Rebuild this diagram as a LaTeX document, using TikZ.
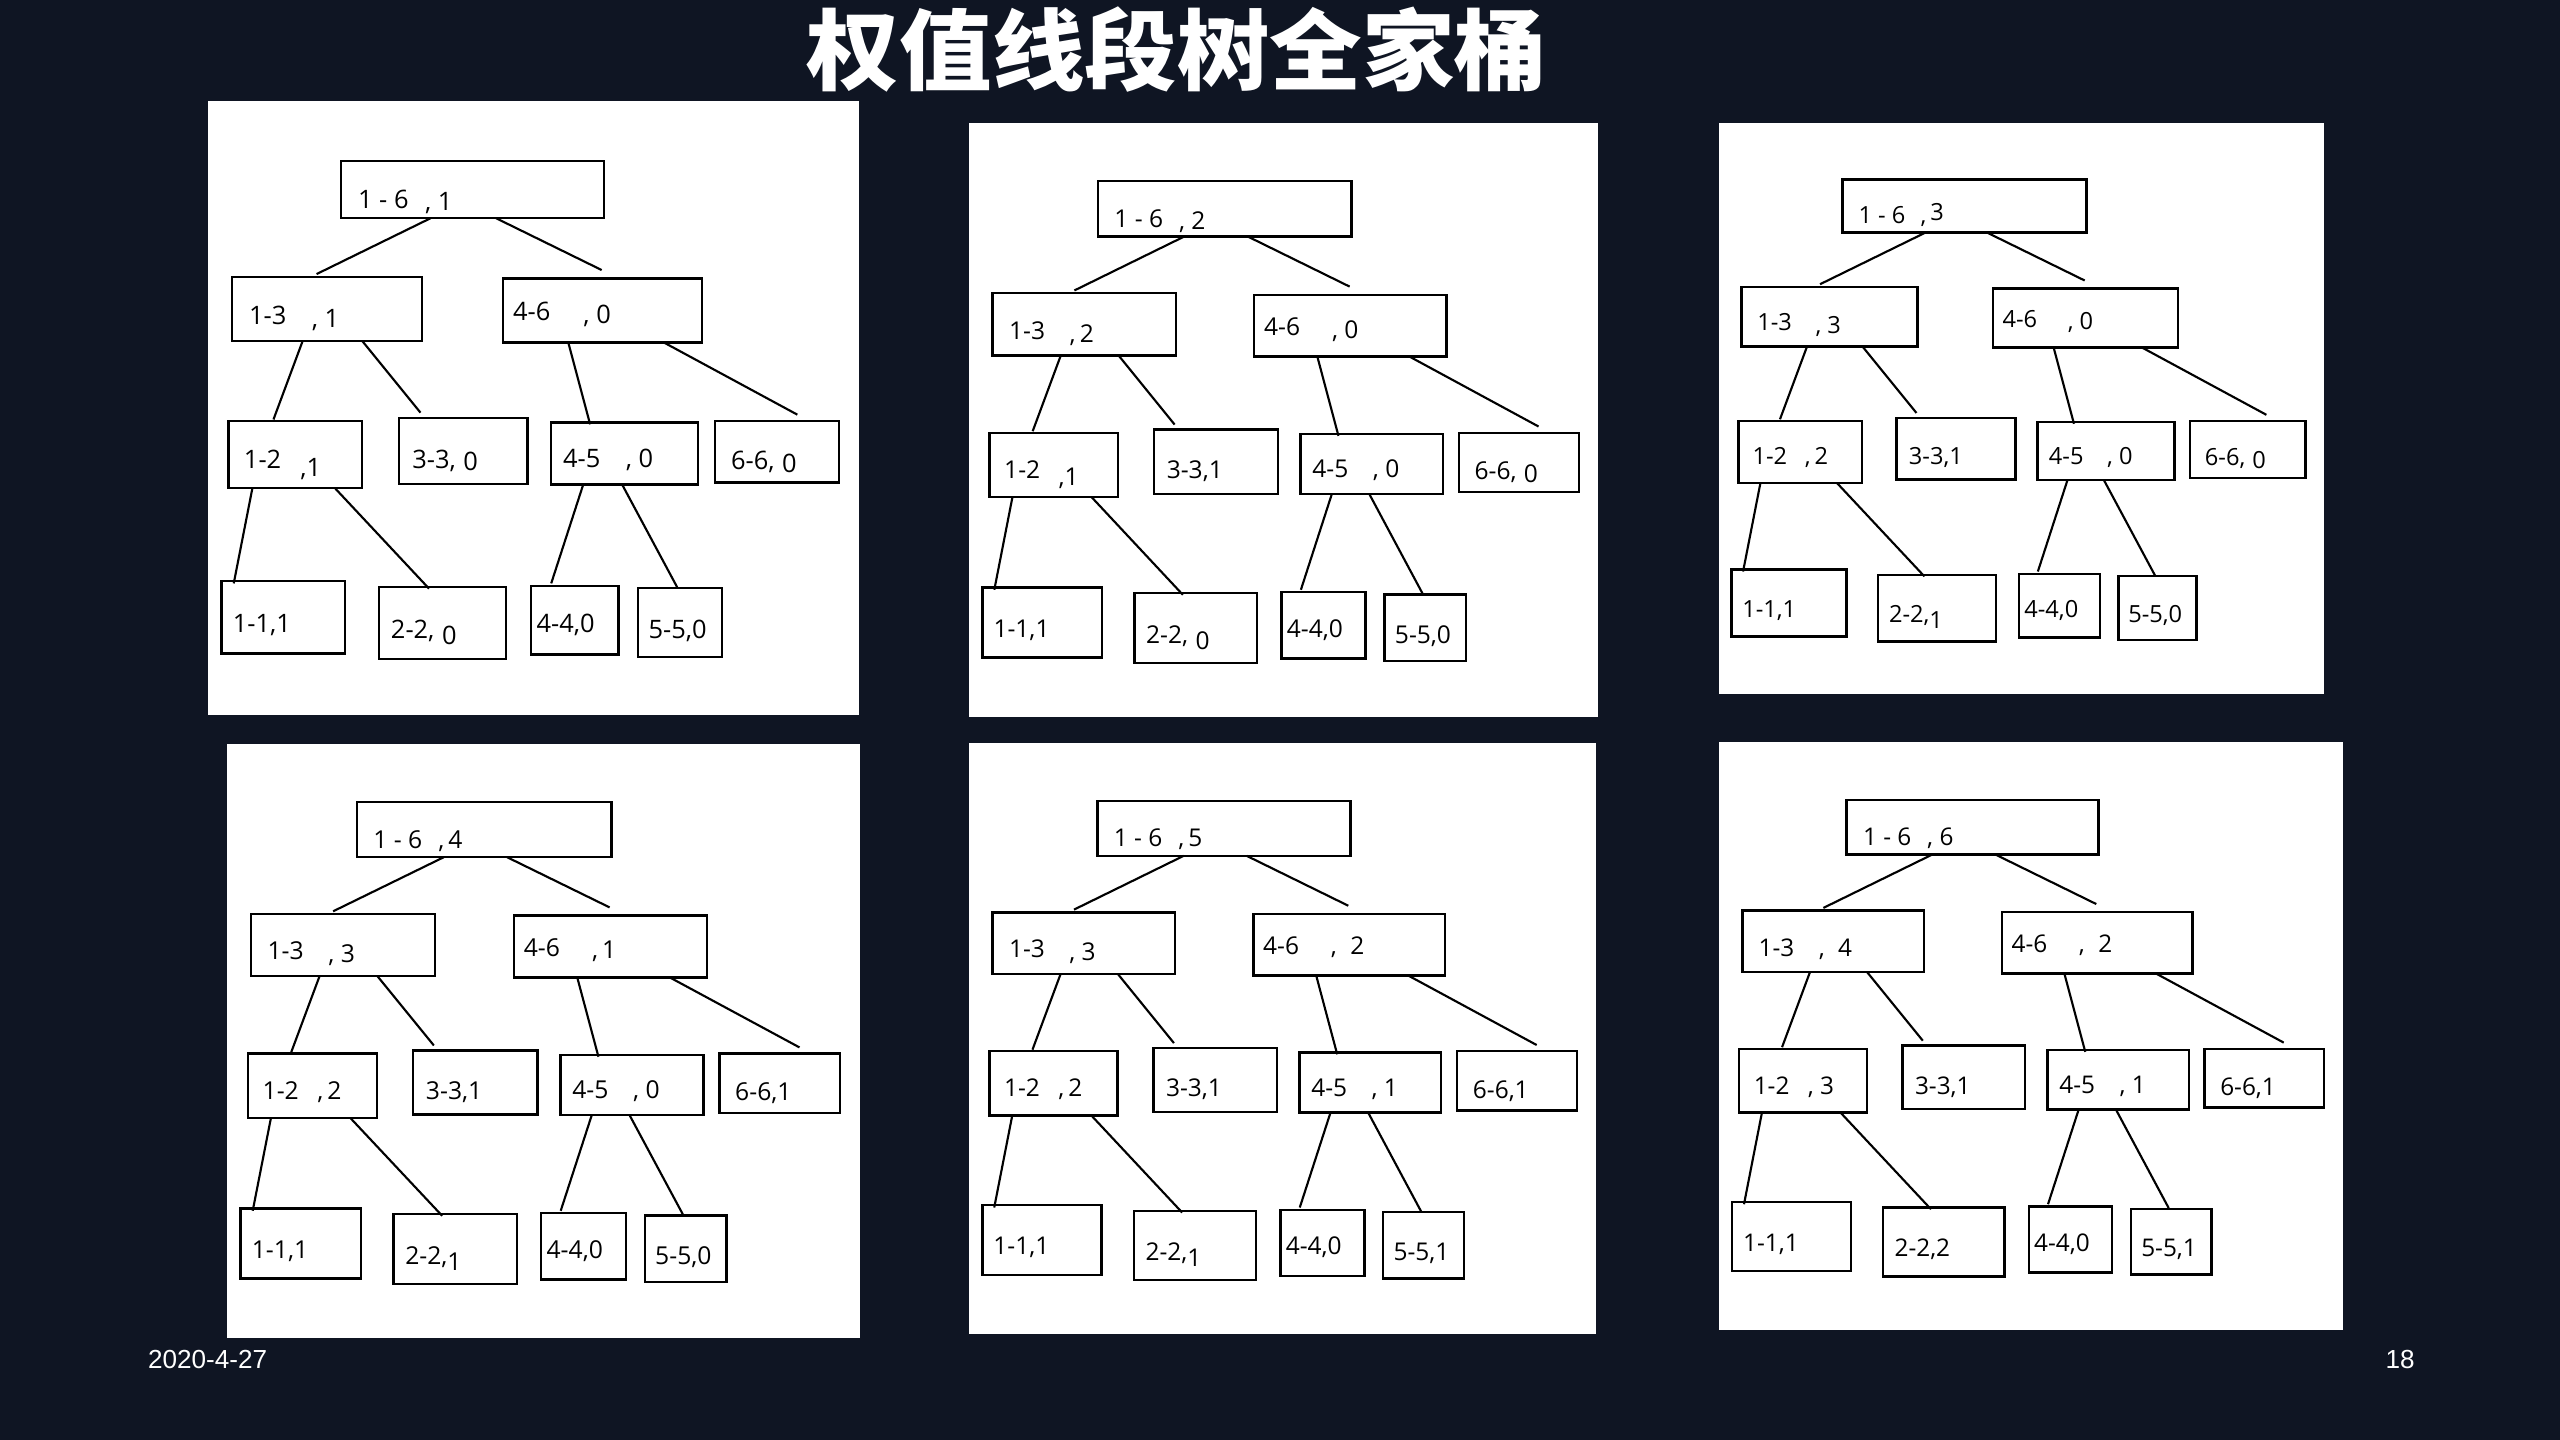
\documentclass[tikz,border=0pt]{standalone}
\usepackage{graphicx}
\usepackage{fontspec}
\setmainfont{Open Sans}
\newfontfamily\cjk{Noto Sans CJK SC}
\newfontfamily\arialf{Liberation Sans}
\usetikzlibrary{calc}
\definecolor{bg}{HTML}{0F1523}

\tikzset{
  panelbg/.style={fill=white, draw=none},
  box/.style={draw=black, line width=1.5pt, inner sep=0pt, outer sep=0pt},
  con/.style={draw=black, line width=1.3pt},
  lbl/.style={inner sep=0pt, outer sep=0pt, anchor=base west, text=black},
  foot/.style={inner sep=0pt, anchor=base west, text=white, font=\arialf\fontsize{16}{16}\selectfont},
}

\newcommand\lo[2][.12em]{\raisebox{-#1}{#2}}

\newcommand\setpanel[4]{%
  \pgfmathsetmacro\pL{#1}\pgfmathsetmacro\pT{#2}%
  \pgfmathsetmacro\pSX{(#3-#1)/1525}\pgfmathsetmacro\pSY{(#4-#2)/1528}%
  \pgfmathsetmacro\pE{59.5*\pSX}}

\newcommand\bx[5]{%
  \node[box, minimum width={(#4-#2)*\pSX*1pt}, minimum height={(#5-#3)*\pSY*1pt}]
    (#1) at ({(#2+#4)/2},{(#3+#5)/2}) {};}

\newcommand\lab[4]{%
  \node[lbl, font=\fontsize{\pE pt}{\pE pt}\selectfont] (#1) at (#2,#3) {#4};}

\newcommand\con[3]{\draw[con] ($(#1.south west)!#2!(#1.south east)$) -- (#3);}

\newcommand\treeframe[1]{%
  \fill[panelbg] (18,27) rectangle (1543,1555);
  \bx{#1r}{330}{177}{945}{319}
  \bx{#1a}{75}{465}{519}{625}
  \bx{#1b}{709}{469}{1175}{628}
  \bx{#1c}{67}{824}{379}{990}
  \bx{#1d}{466}{816}{766}{981}
  \bx{#1e}{821}{827}{1166}{982}
  \bx{#1f}{1205}{824}{1496}{977}
  \bx{#1g}{50}{1222}{340}{1402}
  \bx{#1h}{419}{1237}{716}{1416}
  \bx{#1i}{775}{1234}{979}{1405}
  \bx{#1j}{1025}{1240}{1222}{1411}
  \coordinate (#1e1) at (273,458);
  \coordinate (#1e2) at (940,448);
  \coordinate (#1e3) at (172,820);
  \coordinate (#1e4) at (516,803);
  \coordinate (#1e5) at (913,832);
  \coordinate (#1e6) at (1398,808);
  \coordinate (#1e7) at (79,1228);
  \coordinate (#1e8) at (536,1241);
  \coordinate (#1e9) at (822,1228);
  \coordinate (#1e10) at (1117,1238);
  \con{#1r}{0.341}{#1e1}
  \con{#1r}{0.590}{#1e2}
  \con{#1a}{0.372}{#1e3}
  \con{#1a}{0.687}{#1e4}
  \con{#1b}{0.328}{#1e5}
  \con{#1b}{0.807}{#1e6}
  \con{#1c}{0.179}{#1e7}
  \con{#1c}{0.795}{#1e8}
  \con{#1e}{0.220}{#1e9}
  \con{#1e}{0.484}{#1e10}
}

\newcommand\labelsA[7]{%
  \lab{#1tr}{370}{296}{1 - 6#2}
  \lab{#1ta}{115}{583}{1-3#3}
  \lab{#1tb}{733}{573}{4-6#4}
  \lab{#1tc}{103}{942}{1-2#5}
  \lab{#1td}{497}{942}{3-3#6}
  \lab{#1te}{850}{940}{4-5#7}}
\newcommand\labelsB[6]{%
  \lab{#1tf}{1243}{945}{6-6#2}
  \lab{#1tg}{77}{1350}{1-1#3}
  \lab{#1th}{447}{1365}{2-2#4}
  \lab{#1ti}{788}{1350}{4-4#5}
  \lab{#1tj}{1050}{1365}{5-5#6}}

\newcommand\panelscope[1]{%
  \begin{scope}[shift={(\pL,\pT)}, xscale=\pSX, yscale=\pSY, shift={(-18,-27)}]
  #1
  \end{scope}}

\begin{document}
\begin{tikzpicture}[x=1pt, y=-1pt]
\useasboundingbox (0,0) rectangle (1568,882);
\fill[bg] (0,0) rectangle (1568,882);

\node[inner sep=0pt, anchor=base, text=white, font=\cjk\bfseries\fontsize{54}{54}\selectfont]
  (title) at (721,51) {\scalebox{1.05}[1]{权值线段树全家桶}};

% panel 1
\setpanel{127.2}{61.8}{526.3}{437.8}
\panelscope{%
  \treeframe{pa}
  \labelsA{pa}{\hspace{.65em}\lo[.08em]{, 1}}{\hspace{1.0em}\lo{, 1}}{\hspace{1.3em}\lo{, 0}}{\hspace{.75em}\lo[.3em]{,1}}{,\hspace{.3em}\lo[.08em]{0}}{\hspace{1.0em}, 0}
  \labelsB{pa}{,\hspace{.3em}\lo{0}}{,1}{,\hspace{.3em}\lo[.25em]{0}}{,0}{,0}
}

% panel 2
\setpanel{593.6}{75.3}{979.0}{439.1}
\panelscope{%
  \treeframe{pb}
  \labelsA{pb}{\hspace{.65em}\lo[.08em]{, 2}}{\hspace{1.0em}\lo{,\,2}}{\hspace{1.3em}\lo{, 0}}{\hspace{.75em}\lo[.3em]{,1}}{,1}{\hspace{1.0em}, 0}
  \labelsB{pb}{,\hspace{.3em}\lo{0}}{,1}{,\hspace{.3em}\lo[.25em]{0}}{,0}{,0}
}

% panel 3
\setpanel{1052.8}{75.6}{1423.4}{424.8}
\panelscope{%
  \treeframe{pc}
  \labelsA{pc}{\hspace{.65em},\,\raisebox{.12em}{3}}{\hspace{1.0em}\lo{, 3}}{\hspace{1.3em}\lo{, 0}}{\hspace{.75em},\,2}{,1}{\hspace{1.0em}, 0}
  \labelsB{pc}{,\hspace{.3em}\lo{0}}{,1}{,\lo[.25em]{1}}{,0}{,0}
}

% panel 4
\setpanel{139.3}{455.5}{526.5}{819.5}
\panelscope{%
  \treeframe{pd}
  \labelsA{pd}{\hspace{.65em},\,4}{\hspace{1.0em}\lo{, 3}}{\hspace{1.3em}\lo{,\,1}}{\hspace{.75em},\,2}{,1}{\hspace{1.0em}, 0}
  \labelsB{pd}{,1}{,1}{,\lo[.25em]{1}}{,0}{,0}
}

% panel 5
\setpanel{593.6}{455.0}{977.7}{817.1}
\panelscope{%
  \treeframe{pe}
  \labelsA{pe}{\hspace{.65em},\,5}{\hspace{1.0em}\lo{, 3}}{\hspace{1.3em},\hspace{.55em}2}{\hspace{.75em},\,2}{,1}{\hspace{1.0em}, 1}
  \labelsB{pe}{,1}{,1}{,\lo[.25em]{1}}{,0}{,1}
}

% panel 6
\setpanel{1052.9}{454.5}{1435.1}{814.7}
\panelscope{%
  \treeframe{pf}
  \labelsA{pf}{\hspace{.65em}, 6}{\hspace{1.0em},\hspace{.55em}4}{\hspace{1.3em},\hspace{.55em}2}{\hspace{.75em}, 3}{,1}{\hspace{1.0em}, 1}
  \labelsB{pf}{,1}{,1}{,2}{,0}{,1}
}

\node[foot] (date) at (90.5,838) {2020-4-27};
\node[foot] (page) at (1461,838) {18};
\end{tikzpicture}
\end{document}
